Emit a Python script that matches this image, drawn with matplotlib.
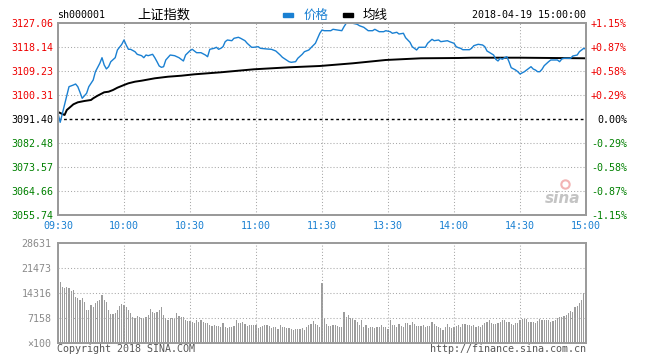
import numpy as np
import matplotlib
matplotlib.use('Agg')
import matplotlib.pyplot as plt
from matplotlib.patches import Rectangle

# ---------------- data ----------------
title_code = "sh000001"
title_name = "上证指数"
legend_labels = ["价格", "均线"]
timestamp = "2018-04-19 15:00:00"

time_ticks = [0, 30, 60, 90, 120, 150, 180, 210, 240]
time_labels = ["09:30", "10:00", "10:30", "11:00", "11:30", "13:30", "14:00", "14:30", "15:00"]

price_levels = [3127.06, 3118.14, 3109.23, 3100.31, 3091.40, 3082.48, 3073.57, 3064.66, 3055.74]
pct_labels = ["+1.15%", "+0.87%", "+0.58%", "+0.29%", "0.00%", "-0.29%", "-0.58%", "-0.87%", "-1.15%"]
prev_close = 3091.40

price_minute = [0, 1, 5, 7, 8, 9, 10, 11, 13, 14, 16, 17, 19, 20, 21, 22, 23, 24, 26, 27, 29, 30,
                31, 32, 33, 35, 36, 38, 39, 40, 41, 43, 44, 45, 46, 47, 48, 49, 51, 53, 55, 57,
                58, 60, 61, 63, 65, 67, 68, 69, 71, 72, 73, 74, 75, 76, 77, 79, 80, 82, 83, 85,
                86, 88, 89, 91, 92, 95, 97, 99, 101, 102, 105, 106, 108, 109, 111, 112, 114, 115,
                117, 118, 119, 120, 121, 124, 125, 127, 129, 130, 131, 134, 136, 137, 139, 141,
                143, 144, 146, 148, 149, 151, 152, 154, 155, 157, 158, 160, 161, 163, 164, 167,
                168, 170, 171, 173, 174, 177, 178, 180, 181, 182, 183, 184, 187, 188, 189, 190,
                191, 193, 194, 195, 196, 198, 199, 200, 201, 202, 203, 204, 205, 206, 208, 209,
                210, 212, 213, 215, 216, 217, 218, 219, 220, 221, 223, 224, 227, 228, 229, 230,
                233, 234, 236, 237, 239, 240]
price_value = [3093.52, 3090.17, 3103.40, 3104.03, 3104.40, 3103.40, 3101.32, 3099.09, 3100.95,
               3103.40, 3105.89, 3108.97, 3112.09, 3114.17, 3111.46, 3110.00, 3110.83, 3112.69,
               3114.17, 3117.03, 3119.15, 3120.75, 3118.89, 3117.29, 3117.29, 3116.40, 3115.43,
               3114.92, 3114.17, 3115.17, 3114.92, 3115.43, 3114.17, 3112.69, 3111.09, 3110.60,
               3110.83, 3113.32, 3115.17, 3114.92, 3114.17, 3112.95, 3115.17, 3116.77, 3117.30,
               3116.03, 3116.03, 3115.17, 3114.54, 3117.29, 3117.66, 3118.04, 3117.29, 3117.66,
               3118.26, 3120.12, 3120.75, 3120.48, 3121.38, 3121.75, 3121.38, 3120.48, 3119.52,
               3118.04, 3118.04, 3118.26, 3117.66, 3117.40, 3117.29, 3116.66, 3115.17, 3114.32,
               3112.69, 3112.46, 3112.69, 3113.95, 3115.43, 3116.40, 3117.03, 3117.89, 3119.52,
               3121.38, 3123.24, 3124.46, 3124.20, 3124.20, 3124.72, 3124.46, 3124.20, 3125.69,
               3126.95, 3126.95, 3126.58, 3126.06, 3125.46, 3124.20, 3124.20, 3124.72, 3123.83,
               3123.83, 3124.20, 3123.83, 3123.24, 3123.61, 3122.97, 3123.24, 3121.60, 3119.89,
               3118.26, 3117.03, 3118.04, 3118.04, 3119.52, 3121.00, 3120.48, 3120.75, 3120.12,
               3120.48, 3120.12, 3119.52, 3118.26, 3117.89, 3117.66, 3117.14, 3117.14, 3117.66,
               3118.63, 3118.89, 3119.15, 3118.89, 3118.26, 3116.66, 3116.18, 3115.17, 3113.58,
               3112.95, 3113.95, 3113.58, 3114.17, 3114.54, 3112.69, 3110.46, 3109.60, 3108.97,
               3108.12, 3108.97, 3109.60, 3110.83, 3109.97, 3109.60, 3108.97, 3108.97, 3109.86,
               3111.20, 3112.69, 3113.32, 3113.32, 3112.69, 3113.69, 3113.95, 3113.95, 3114.80,
               3115.17, 3116.40, 3117.66, 3117.29]

avg_minute = [0, 3, 4, 7, 9, 12, 15, 16, 18, 21, 23, 25, 27, 30, 32, 35, 38, 44, 50, 56, 62,
              74, 89, 105, 119, 134, 149, 165, 182, 188, 210, 240]
avg_value = [3094.00, 3092.89, 3094.74, 3096.86, 3097.60, 3098.09, 3098.46, 3099.09, 3100.06,
             3101.32, 3101.54, 3102.17, 3103.03, 3104.03, 3104.66, 3105.26, 3105.63, 3106.52,
             3107.11, 3107.48, 3108.00, 3108.75, 3109.86, 3110.60, 3111.09, 3112.09, 3113.32,
             3113.95, 3114.06, 3114.17, 3114.17, 3113.95]

vol_levels = [28631, 21473, 14316, 7158, 0]
vol_labels = ["28631", "21473", "14316", "7158", "×100"]
volume = [45000,
          17400, 16100, 15700, 15900, 15700, 14900,
          15200, 13300, 12800, 12300, 12800, 11800,
          9400, 9400, 10900, 10400, 11500, 12100,
          12300, 13700, 12300, 11800, 9400, 8300,
          8300, 8500, 9400, 10600, 11200, 10900,
          10200, 9400, 8500, 7500, 7100, 7700,
          7400, 7100, 7100, 7400, 8000, 9600,
          9000, 8500, 9000, 9400, 10200, 8000,
          7200, 6600, 7100, 7100, 6800, 8700,
          7700, 7500, 7400, 6600, 6400, 6400,
          6100, 5800, 6600, 6100, 6600, 6100,
          5800, 5600, 5200, 4900, 5200, 4900,
          4900, 4700, 5800, 4500, 4200, 4700,
          4700, 4900, 6600, 5800, 5600, 6100,
          5400, 4900, 5200, 5200, 5200, 5200,
          4200, 4500, 4900, 5200, 5200, 4800, 4200, 4500, 4500, 4000,
          5200, 4500, 4500, 4200, 4200, 3900, 3700, 3900, 3900, 3900,
          4200, 3700, 4500, 5200, 5500, 6400, 5500, 5200, 4500,
          17100,
          7100, 5400, 4900, 4900, 5200, 5200, 4900, 4700, 4500,
          8800, 7400, 8000, 7100, 7100, 6600, 6100, 5200, 6600, 4700,
          5200, 4200, 4700, 4500, 4200, 4500, 4700, 5200, 4700, 4500,
          4000, 6600, 5200, 5200, 4700, 5400, 4900, 4500, 5800, 5800,
          5200, 6100, 5400, 4900, 4900, 4900, 5200, 4500, 4900, 4900,
          6100, 5400, 4900, 4700, 4200, 3700, 4500, 5400, 4700, 4200,
          4500, 4900, 5200, 4700, 5400, 5400, 5200, 5200, 4900, 5200,
          4700, 4900, 4700, 5200, 5800, 6100, 6600, 5800, 5400, 5400,
          5800, 6100, 6600, 6600, 6100, 6100, 5400, 5200, 5800, 5800,
          6600, 6800, 6800, 6800, 6100, 6100, 6100, 5800, 6300, 6800,
          6600, 6600, 6600, 6600, 6100, 6400, 6600, 7100, 7400, 7400,
          7700, 8000, 8500, 9200, 9000, 10200, 10600, 11500, 12300, 14200, 14300]

# ---------------- style ----------------
BLUE = '#1a80d2'
RED = '#ee0000'
GREEN = '#008000'
GRID = '#a8a8a8'
SPINE = '#9a9a9a'
MONO = 'DejaVu Sans Mono'
CJK = ['Noto Sans CJK SC', 'DejaVu Sans']
FS = 7.2

W, H = 646, 362
fig = plt.figure(figsize=(W / 100, H / 100), dpi=100)


def px_axes(l, t, r, b):
    return fig.add_axes([l / W, 1 - b / H, (r - l) / W, (b - t) / H])


def fy(y):
    return 1 - y / H


# ---------------- price panel ----------------
ax = px_axes(58, 23, 586, 215)
ax.set_xlim(0, 240)
ax.set_ylim(price_levels[-1], price_levels[0])
for lv in price_levels[1:-1]:
    if lv == prev_close:
        ax.axhline(lv, color='black', lw=1.0, ls=(0, (2, 2)), zorder=1)
    else:
        ax.axhline(lv, color=GRID, lw=0.75, ls=(0, (1, 2)), zorder=1)
for t in time_ticks[1:-1]:
    ax.axvline(t, color=GRID, lw=0.75, ls=(0, (1, 2)), zorder=1)

ax.plot(avg_minute, avg_value, color='black', lw=1.4, zorder=3)
ax.plot(price_minute, price_value, color=BLUE, lw=1.0, zorder=4)

ax.set_yticks(price_levels)
ax.set_yticklabels([f"{v:.2f}" for v in price_levels], fontfamily=MONO, fontsize=FS)
for lab, v in zip(ax.get_yticklabels(), price_levels):
    lab.set_color(RED if v > prev_close else (GREEN if v < prev_close else 'black'))
ax.set_xticks(time_ticks)
ax.set_xticklabels(time_labels, fontfamily=MONO, fontsize=FS, color=BLUE)
ax.tick_params(length=0, axis='y', pad=3.6)
ax.tick_params(length=0, axis='x', pad=4.5)

ax2 = ax.twinx()
ax2.set_ylim(price_levels[-1], price_levels[0])
ax2.set_yticks(price_levels)
ax2.set_yticklabels(pct_labels, fontfamily=MONO, fontsize=FS, ha='right')
for lab, v in zip(ax2.get_yticklabels(), price_levels):
    lab.set_color(RED if v > prev_close else (GREEN if v < prev_close else 'black'))
ax2.tick_params(length=0, pad=29.5)

for a in (ax, ax2):
    for s in a.spines.values():
        s.set_color(SPINE)
        s.set_linewidth(1.4)

# sina watermark
ax.text(0.955, 0.085, 'sina', transform=ax.transAxes, ha='center', va='center',
        fontsize=11, fontstyle='italic', fontweight='bold', color='#c4c4c4', zorder=0)
ax.plot([0.96], [0.16], transform=ax.transAxes, marker='o', ms=6, mfc='none',
        mec='#f2b4b4', mew=1.5, zorder=0)

# ---------------- volume panel ----------------
axv = px_axes(58, 243, 586, 343)
axv.set_xlim(0, 240)
axv.set_ylim(vol_levels[-1], vol_levels[0])
vm = np.arange(len(volume))
axv.bar(vm, volume, width=0.5, color='#9c9c9c', linewidth=0, zorder=2)
for lv in vol_levels[1:-1]:
    axv.axhline(lv, color=GRID, lw=0.75, ls=(0, (1, 2)), zorder=3)
for t in time_ticks[1:-1]:
    axv.axvline(t, color=GRID, lw=0.75, ls=(0, (1, 2)), zorder=3)
axv.set_yticks(vol_levels)
axv.set_yticklabels(vol_labels, fontfamily=MONO, fontsize=FS, color='#8a8a8a')
axv.set_xticks([])
axv.tick_params(length=0, pad=4.5)
for s in axv.spines.values():
    s.set_color(SPINE)
    s.set_linewidth(1.4)

# ---------------- header & footer text ----------------
fig.text(57 / W, fy(15.5), title_code, fontfamily=MONO, fontsize=FS, ha='left', va='center')
fig.text(137 / W, fy(15.5), title_name, family=CJK, fontsize=9.5, ha='left', va='center')
fig.patches.append(Rectangle((283 / W, fy(16.5)), 10 / W, 3 / H, transform=fig.transFigure,
                             color=BLUE, figure=fig))
fig.text(304 / W, fy(15.5), legend_labels[0], family=CJK, fontsize=9, color=BLUE,
         ha='left', va='center')
fig.patches.append(Rectangle((343 / W, fy(16.5)), 10 / W, 3 / H, transform=fig.transFigure,
                             color='black', figure=fig))
fig.text(363 / W, fy(15.5), legend_labels[1], family=CJK, fontsize=9, color='black',
         ha='left', va='center')
fig.text(586 / W, fy(15.5), timestamp, fontfamily=MONO, fontsize=FS, ha='right', va='center')

fig.text(57 / W, fy(348.5), "Copyright 2018 SINA.COM", fontfamily=MONO, fontsize=FS,
         color='#555555', ha='left', va='center')
fig.text(586 / W, fy(348.5), "http://finance.sina.com.cn", fontfamily=MONO, fontsize=FS,
         color='#555555', ha='right', va='center')

fig.savefig('out.png', dpi=100, facecolor='white')
